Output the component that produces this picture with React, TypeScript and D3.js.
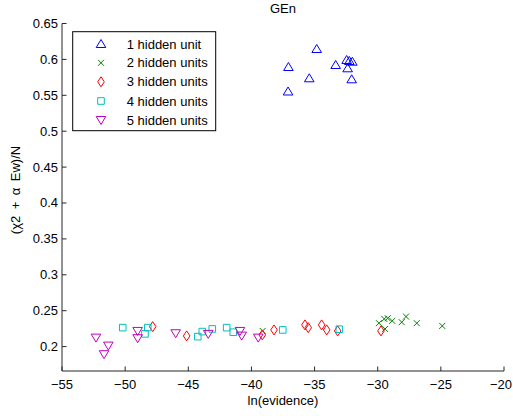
import React from "react";
import * as d3 from "d3";

const xTicks = [-55, -50, -45, -40, -35, -30, -25, -20];
const yTicks = [0.2, 0.25, 0.3, 0.35, 0.4, 0.45, 0.5, 0.55, 0.6, 0.65];

const s1x = [-34.83, -33.33, -32.46, -32.25, -32.01, -32.38, -32.06, -35.42, -37.07, -37.1];
const s1y = [0.6145, 0.5922, 0.5992, 0.5978, 0.5968, 0.5876, 0.5723, 0.5737, 0.5894, 0.5553];

const s2x = [-39.11, -29.9, -29.48, -29.21, -28.85, -28.1, -27.76, -26.91, -24.89, -29.42];
const s2y = [0.2218, 0.2326, 0.2386, 0.2395, 0.2358, 0.234, 0.2418, 0.2326, 0.2288, 0.2246];

const s3x = [-47.82, -45.13, -39.14, -38.21, -35.76, -35.5, -34.44, -34.04, -33.17, -29.74];
const s3y = [0.2278, 0.2149, 0.2163, 0.2232, 0.2302, 0.2264, 0.2302, 0.2232, 0.2218, 0.2218];

const s4x = [-50.19, -48.43, -48.21, -44.25, -43.89, -43.1, -41.96, -41.44, -37.52, -33.04];
const s4y = [0.2264, 0.2177, 0.2264, 0.2139, 0.2209, 0.2246, 0.2264, 0.22, 0.2232, 0.2242];

const s5x = [-52.31, -51.33, -51.67, -49.01, -49.01, -46.0, -43.42, -40.91, -40.77, -39.46];
const s5y = [0.2125, 0.2014, 0.1894, 0.2218, 0.2117, 0.2186, 0.2177, 0.2218, 0.2153, 0.2125];

const seriesNames = ["1 hidden unit", "2 hidden units", "3 hidden units", "4 hidden units", "5 hidden units"];
const seriesColors = ["#0000ff", "#008000", "#ff0000", "#00bfbf", "#bf00bf"];
const seriesShapes = ["tri", "x", "diamond", "square", "triDown"];

const W = 513;
const H = 416;
const left = 62;
const right = 504;
const top = 23.5;
const bottom = 371;

function markerPath(shape: string, x: number, y: number): string {
  switch (shape) {
    case "tri":
      return `M${x},${y - 4.5}L${x + 4.8},${y + 3.5}L${x - 4.8},${y + 3.5}Z`;
    case "triDown":
      return `M${x},${y + 4.5}L${x + 4.8},${y - 3.5}L${x - 4.8},${y - 3.5}Z`;
    case "diamond":
      return `M${x},${y - 5}L${x + 3.3},${y}L${x},${y + 5}L${x - 3.3},${y}Z`;
    case "square":
      return `M${x - 3.3},${y - 3.3}L${x + 3.3},${y - 3.3}L${x + 3.3},${y + 3.3}L${x - 3.3},${y + 3.3}Z`;
    case "x":
      return `M${x - 3},${y - 3}L${x + 3},${y + 3}M${x - 3},${y + 3}L${x + 3},${y - 3}`;
  }
  return "";
}

export default function App() {
  const xs = d3.scaleLinear().domain([-55, -20]).range([left, right]);
  const ys = d3.scaleLinear().domain([0.166, 0.65]).range([bottom, top]);
  const seriesX = [s1x, s2x, s3x, s4x, s5x];
  const seriesY = [s1y, s2y, s3y, s4y, s5y];
  const font = "Liberation Sans, Arial, Helvetica, sans-serif";
  const axisColor = "#262626";

  const legX = 72.7;
  const legY = 31.7;
  const legW = 143;
  const legH = 99;
  const rowY = [44, 62.8, 81.8, 101, 120];

  return (
    <svg
      width={W}
      height={H}
      style={{ position: "absolute", left: 0, top: 0, background: "#fff" }}
      fontFamily={font}
    >
      <rect x={0} y={0} width={W} height={H} fill="#fff" />
      {/* data */}
      {seriesX.map((sx, si) => (
        <g key={si}>
          {sx.map((v, i) => (
            <path
              key={i}
              d={markerPath(seriesShapes[si], xs(v), ys(seriesY[si][i]))}
              fill="none"
              stroke={seriesColors[si]}
              strokeWidth={1}
            />
          ))}
        </g>
      ))}
      {/* axes */}
      <line x1={left} x2={right} y1={bottom} y2={bottom} stroke={axisColor} strokeWidth={1} />
      <line x1={left} x2={left} y1={top} y2={bottom} stroke={axisColor} strokeWidth={1} />
      {xTicks.map((t, i) => {
        const last = i === xTicks.length - 1;
        return (
          <g key={t}>
            <line x1={xs(t)} x2={xs(t)} y1={bottom} y2={bottom - 4.5} stroke={axisColor} />
            <text
              x={last ? W - 1 : xs(t)}
              y={389}
              textAnchor={last ? "end" : "middle"}
              fontSize={13}
              fill="#000"
            >
              {t < 0 ? "\u2212" + Math.abs(t) : String(t)}
            </text>
          </g>
        );
      })}
      {yTicks.map((t) => (
        <g key={t}>
          <line x1={left} x2={left + 4.5} y1={ys(t)} y2={ys(t)} stroke={axisColor} />
          <text x={58} y={ys(t) + 4.5} textAnchor="end" fontSize={13} fill="#000">
            {String(t)}
          </text>
        </g>
      ))}
      {/* labels */}
      <text x={283} y={12.7} textAnchor="middle" fontSize={13} fill="#000">
        GEn
      </text>
      <text x={283} y={405} textAnchor="middle" fontSize={13} fill="#000">
        ln(evidence)
      </text>
      <text
        transform={`translate(19.5,190) rotate(-90)`}
        textAnchor="middle"
        fontSize={13}
        fill="#000"
      >
        {"(χ2\u2002+\u2002α\u2002Ew)/N"}
      </text>
      {/* legend */}
      <rect x={legX} y={legY} width={legW} height={legH} fill="#fff" stroke="#000" strokeWidth={1} />
      {seriesNames.map((n, i) => (
        <g key={n}>
          <path d={markerPath(seriesShapes[i], 101, rowY[i])} fill="none" stroke={seriesColors[i]} strokeWidth={1} />
          <text x={126.7} y={rowY[i] + 4.6} fontSize={13} fill="#000">
            {n}
          </text>
        </g>
      ))}
    </svg>
  );
}
